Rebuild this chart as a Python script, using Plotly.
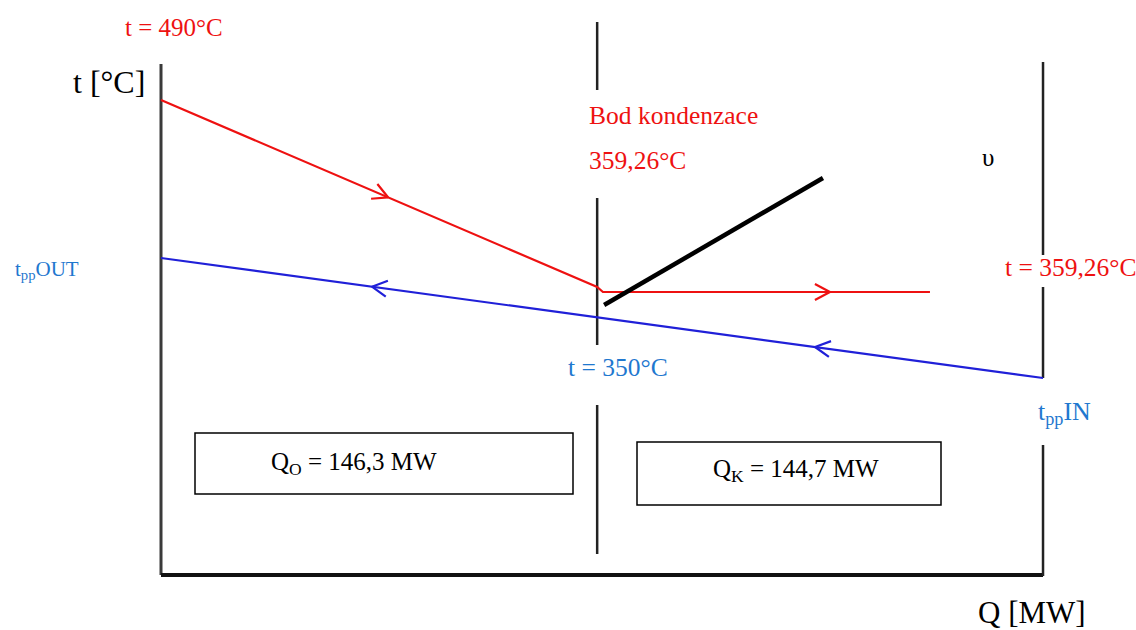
import numpy as np
import plotly.graph_objects as go

# ---------------- data (Q in MW, t in °C) ----------------
Q_O = 146.3          # heat in the superheated part
Q_K = 144.7          # heat in the condensing part
T_HOT_IN = 490.0
T_COND = 359.26
T_PINCH = 350.0

Q_split = 143.9              # position of the condensation point on the Q axis
Q_total = 291.0              # end of the Q axis (right border line)

q_red = [0.0, 143.9, 145.8, 253.7]
t_red = [490.0, 362.7, 359.26, 359.26]

q_blue = [0.0, 291.0]
t_blue = [382.4, 300.7]

q_black = [146.2, 218.4]
t_black = [350.4, 436.9]

red_arrow_q = [74.9, 220.7]     # arrows pointing towards increasing Q
blue_arrow_q = [69.6, 215.8]    # arrows pointing towards decreasing Q

# ---------------- scales (pixel <-> data) ----------------
W, H = 1136, 630
QX0, QS = 161.0, 3.031      # pixel of Q=0, pixels per MW
TY0, TS = 100.0, 1.4686     # pixel of t=490, pixels per °C


def q(px):
    return (px - QX0) / QS


def t(py):
    return 490.0 - (py - TY0) / TS


RED = "#EE1111"
BLUE = "#2020D8"
LBLUE = "#1F78CF"
FONT = "Liberation Serif"

fig = go.Figure()


def line(xs, ys, color, width):
    fig.add_trace(go.Scatter(x=xs, y=ys, mode="lines", hoverinfo="skip",
                             line=dict(color=color, width=width)))


def chevron(q_tip, qs, ts, direction, color, length=17, half=28):
    t_tip = float(np.interp(q_tip, qs, ts))
    i = int(np.searchsorted(qs, q_tip)) - 1
    i = max(0, min(i, len(qs) - 2))
    dx = (qs[i + 1] - qs[i]) * QS
    dy = -(ts[i + 1] - ts[i]) * TS
    n = np.hypot(dx, dy)
    dx, dy = dx / n * direction, dy / n * direction
    bx, by = -dx, -dy
    xs, ys = [], []
    for s in (1, -1):
        a = np.radians(half * s)
        ox = (bx * np.cos(a) - by * np.sin(a)) * length
        oy = (bx * np.sin(a) + by * np.cos(a)) * length
        xs.append(q_tip + ox / QS)
        ys.append(t_tip - oy / TS)
    line([xs[0], q_tip, xs[1]], [ys[0], t_tip, ys[1]], color, 2.2)


# axes / frame lines
line([0, 0], [t(64), t(575)], "#3a3a3a", 3)
line([0, Q_total], [t(575), t(575)], "#111111", 4)
line([Q_split] * 8, [t(22), t(90), None, t(198), t(345), None, t(405), t(554)], "#222222", 2.5)
line([Q_total] * 8, [t(62), t(255), None, t(287), t(378), None, t(445), t(576)], "#222222", 2.5)

# process lines
line(q_red, t_red, RED, 2.2)
line(q_blue, t_blue, BLUE, 2.2)
line(q_black, t_black, "#000000", 4.5)

for qa in red_arrow_q:
    chevron(qa, q_red, t_red, 1, RED)
for qa in blue_arrow_q:
    chevron(qa, q_blue, t_blue, -1, BLUE)

# boxes
for (x0, x1, y0, y1) in [(195, 573, 433, 494), (637, 941, 442, 505)]:
    fig.add_shape(type="rect", xref="x", yref="y", x0=q(x0), x1=q(x1), y0=t(y1), y1=t(y0),
                  line=dict(color="#000000", width=1.5), fillcolor="rgba(0,0,0,0)")

labels = [
    (f"t = {T_HOT_IN:.0f}°C", 123, 27, RED, 25),
    ("t [°C]", 71, 82, "#000000", 32),
    ("t<sub>pp</sub>OUT", 13, 270, LBLUE, 21),
    ("Bod kondenzace", 587, 115, RED, 25.5),
    (f"{T_COND:.2f}°C".replace(".", ","), 587, 160, RED, 25.5),
    ("υ", 980, 157, "#000000", 25),
    (f"t = {T_COND:.2f}°C".replace(".", ","), 1003, 267, RED, 25.5),
    (f"t = {T_PINCH:.0f}°C", 566, 367, LBLUE, 25.5),
    ("t<sub>pp</sub>IN", 1036, 413, LBLUE, 26),
    (f"Q<sub>O</sub> = {Q_O:.1f} MW".replace(".", ","), 269, 463, "#000000", 25),
    (f"Q<sub>K</sub> = {Q_K:.1f} MW".replace(".", ","), 711, 470, "#000000", 25),
    ("Q [MW]", 976, 612, "#000000", 31),
]
for text, px, py, col, size in labels:
    fig.add_annotation(x=q(px), y=t(py), xref="x", yref="y", text=text, showarrow=False,
                       xanchor="left", yanchor="middle",
                       font=dict(family=FONT, size=size, color=col))

fig.update_layout(
    width=W, height=H, margin=dict(l=0, r=0, t=0, b=0),
    paper_bgcolor="white", plot_bgcolor="white", showlegend=False,
    xaxis=dict(visible=False, range=[q(0), q(W)], fixedrange=True),
    yaxis=dict(visible=False, range=[t(H), t(0)], fixedrange=True),
)

fig.write_html("out.html", config={"displayModeBar": False},
               post_script="document.body.style.margin='0';")
